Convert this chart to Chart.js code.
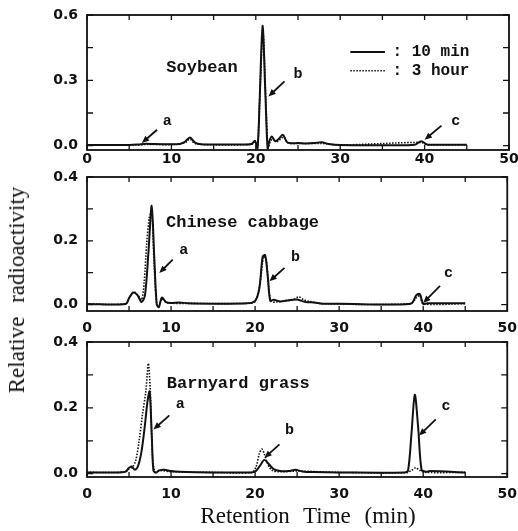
<!DOCTYPE html>
<html>
<head>
<meta charset="utf-8">
<script src="https://cdn.jsdelivr.net/npm/chart.js@4.4.1/dist/chart.umd.min.js"></script>
<style>
  body { margin: 0; background: #fff; }
  #wrap { position: relative; width: 518px; height: 531px; overflow: hidden; }
  #wrap canvas { position: absolute; left: 0; top: 0; }
  .title { position: absolute; font-family: "Liberation Serif", serif; color: #111; white-space: nowrap; word-spacing: 8px; }
  #ytitle { left: 17px; top: 290px; font-size: 23px; transform: translate(-50%, -50%) rotate(-90deg); }
  #xtitle { left: 308px; top: 516px; font-size: 23px; transform: translate(-50%, -50%); }
</style>
</head>
<body>
<div id="wrap">
  <canvas id="p1" width="518" height="531"></canvas>
  <canvas id="p2" width="518" height="531"></canvas>
  <canvas id="p3" width="518" height="531"></canvas>
  <div class="title" id="ytitle">Relative radioactivity</div>
  <div class="title" id="xtitle">Retention Time (min)</div>
</div>
<script>
// time in min, relative radioactivity
var seriesLabels = ["10 min", "3 hour"];
var xLabelTicks = [0, 10, 20, 30, 40, 50];
var xMinorTicks = [0, 5, 10, 15, 20, 25, 30, 35, 40, 45, 50];

// Soybean
var soyT10 = [0, 5, 6, 7, 8, 10, 11, 11.6, 12.2, 12.8, 13.5, 15, 18, 19.5, 19.9, 20.2, 20.45, 20.8, 21.15, 21.4, 21.6, 21.9, 22.3, 22.7, 23.2, 23.7, 24.2, 25, 26, 27, 27.8, 28.6, 30, 35, 38.8, 39.6, 40.3, 41, 45];
var soyV10 = [0.003, 0.003, 0.005, 0.009, 0.007, 0.006, 0.008, 0.018, 0.037, 0.014, 0.006, 0.005, 0.005, 0.008, 0.022, -0.012, 0.2, 0.55, 0.22, -0.012, 0.02, 0.042, 0.02, 0.03, 0.05, 0.016, 0.011, 0.012, 0.01, 0.012, 0.016, 0.008, 0.003, 0.002, 0.004, 0.02, 0.005, 0.004, 0.004];
var soyT3 = [0, 6, 7, 10, 11.6, 12.2, 12.8, 15, 19.5, 19.9, 20.2, 20.5, 20.85, 21.2, 21.45, 21.7, 22, 22.4, 22.8, 23.3, 23.8, 25, 27.8, 30, 39.6, 40.3, 45];
var soyV3 = [0.002, 0.003, 0.006, 0.005, 0.013, 0.03, 0.01, 0.004, 0.006, 0.018, -0.008, 0.25, 0.52, 0.2, -0.01, 0.015, 0.035, 0.018, 0.025, 0.04, 0.013, 0.01, 0.01, 0.003, 0.015, 0.004, 0.004];

// Chinese cabbage
var cabT10 = [0, 4.6, 5.0, 5.5, 6.0, 6.5, 6.9, 7.3, 7.7, 8.0, 8.3, 8.55, 8.9, 9.4, 10, 11, 12, 15, 19, 20, 20.5, 20.9, 21.2, 21.5, 21.8, 22.2, 23, 24, 25, 26, 27, 28, 30, 38.5, 39.2, 39.6, 40.0, 40.5, 45];
var cabV10 = [0.002, 0.002, 0.02, 0.038, 0.03, 0.008, 0.03, 0.16, 0.31, 0.15, 0.0, -0.008, 0.022, 0.008, 0.005, 0.007, 0.004, 0.003, 0.004, 0.012, 0.05, 0.15, 0.155, 0.09, 0.012, 0.015, 0.01, 0.014, 0.016, 0.008, 0.007, 0.003, 0.003, 0.003, 0.03, 0.033, 0.002, 0.004, 0.004];
var cabT3 = [0, 4.6, 5.1, 5.6, 6.1, 6.5, 6.8, 7.1, 7.4, 7.7, 8.0, 8.3, 8.6, 8.9, 9.5, 12, 19, 20, 20.6, 21.0, 21.3, 21.6, 21.9, 22.5, 23.5, 24.5, 25.2, 25.8, 26.5, 28, 38.5, 39.2, 39.6, 40, 45];
var cabV3 = [0.002, 0.003, 0.025, 0.04, 0.028, 0.015, 0.07, 0.19, 0.27, 0.29, 0.12, 0.0, -0.005, 0.018, 0.006, 0.004, 0.004, 0.01, 0.07, 0.15, 0.145, 0.06, 0.01, 0.008, 0.012, 0.015, 0.024, 0.015, 0.01, 0.003, 0.003, 0.022, 0.028, 0.003, 0.003];

// Barnyard grass
var barT10 = [0, 4.5, 5.0, 5.3, 5.7, 6.1, 6.5, 6.9, 7.2, 7.45, 7.7, 7.9, 8.2, 8.6, 9.2, 10, 11, 15, 19.6, 20.1, 20.6, 21.1, 21.6, 22.2, 23, 24, 24.8, 25.6, 27, 30, 37.8, 38.2, 38.6, 39.0, 39.4, 39.8, 40.3, 40.8, 45];
var barV10 = [0.004, 0.005, 0.018, 0.022, 0.012, 0.025, 0.07, 0.15, 0.22, 0.25, 0.12, 0.01, 0.003, 0.01, 0.012, 0.008, 0.006, 0.004, 0.004, 0.008, 0.025, 0.042, 0.03, 0.014, 0.008, 0.008, 0.012, 0.007, 0.005, 0.004, 0.004, 0.01, 0.12, 0.24, 0.14, 0.012, 0.006, 0.008, 0.004];
var barT3 = [0, 4.5, 5.0, 5.4, 5.8, 6.2, 6.6, 7.0, 7.3, 7.55, 7.8, 8.1, 8.6, 10, 15, 19.6, 20.1, 20.5, 20.8, 21.1, 21.5, 22, 23, 25, 30, 38, 38.6, 39.1, 39.6, 40.3, 45];
var barV3 = [0.004, 0.005, 0.015, 0.02, 0.04, 0.1, 0.18, 0.25, 0.335, 0.24, 0.05, 0.006, 0.01, 0.006, 0.004, 0.004, 0.02, 0.06, 0.075, 0.06, 0.03, 0.01, 0.006, 0.008, 0.004, 0.003, 0.01, 0.018, 0.01, 0.004, 0.004];

var ink = "#111";

function pts(t, v) {
  return t.map(function (x, i) { return {x: x, y: v[i]}; });
}

// frame, inward ticks, panel name, peak arrows, legend
const deco = {
  id: "deco",
  afterDraw(chart, args, o) {
    var ctx = chart.ctx, a = chart.chartArea, xs = chart.scales.x, ys = chart.scales.y;
    ctx.save();
    ctx.strokeStyle = ink;
    ctx.fillStyle = ink;
    ctx.lineWidth = 1.8;
    ctx.strokeRect(a.left, a.top, a.right - a.left, a.bottom - a.top);
    ctx.lineWidth = 1.3;
    ctx.beginPath();
    xMinorTicks.forEach(function (v) {
      var p = xs.getPixelForValue(v);
      ctx.moveTo(p, a.bottom); ctx.lineTo(p, a.bottom - 5);
      ctx.moveTo(p, a.top); ctx.lineTo(p, a.top + 5);
    });
    o.yMinor.forEach(function (v) {
      var p = ys.getPixelForValue(v);
      ctx.moveTo(a.left, p); ctx.lineTo(a.left + 6, p);
      ctx.moveTo(a.right, p); ctx.lineTo(a.right - 6, p);
    });
    ctx.stroke();

    ctx.font = 'bold 17px "Liberation Mono"';
    ctx.textAlign = "left";
    ctx.textBaseline = "middle";
    ctx.fillText(o.name, xs.getPixelForValue(o.nameAt[0]), ys.getPixelForValue(o.nameAt[1]));

    ctx.font = 'bold 15px "Liberation Mono"';
    ctx.textAlign = "center";
    o.peaks.forEach(function (m) {
      ctx.fillText(m[0], xs.getPixelForValue(m[1]), ys.getPixelForValue(m[2]));
      var x1 = xs.getPixelForValue(m[3]), y1 = ys.getPixelForValue(m[4]);
      var x2 = xs.getPixelForValue(m[5]), y2 = ys.getPixelForValue(m[6]);
      var ang = Math.atan2(y2 - y1, x2 - x1);
      ctx.lineWidth = 1.8;
      ctx.beginPath();
      ctx.moveTo(x1, y1);
      ctx.lineTo(x2 - 5 * Math.cos(ang), y2 - 5 * Math.sin(ang));
      ctx.stroke();
      ctx.beginPath();
      ctx.moveTo(x2, y2);
      ctx.lineTo(x2 - 8 * Math.cos(ang - 0.4), y2 - 8 * Math.sin(ang - 0.4));
      ctx.lineTo(x2 - 8 * Math.cos(ang + 0.4), y2 - 8 * Math.sin(ang + 0.4));
      ctx.closePath();
      ctx.fill();
    });

    if (o.legend) {
      ctx.textAlign = "left";
      ctx.font = 'bold 16px "Liberation Mono"';
      chart.data.datasets.forEach(function (ds, i) {
        var row = o.legend[i];
        var y = ys.getPixelForValue(row[1]);
        ctx.lineWidth = ds.borderWidth;
        ctx.setLineDash(ds.borderDash || []);
        ctx.beginPath();
        ctx.moveTo(xs.getPixelForValue(row[0]), y);
        ctx.lineTo(xs.getPixelForValue(row[2]), y);
        ctx.stroke();
        ctx.setLineDash([]);
        ctx.fillText(": " + ds.label, xs.getPixelForValue(row[3]), y);
      });
    }
    ctx.restore();
  }
};

function panel(id, t10, v10, t3, v3, cfg) {
  return new Chart(document.getElementById(id), {
    type: "line",
    data: {
      datasets: [
        { label: seriesLabels[0], data: pts(t10, v10), borderColor: ink, borderWidth: 2, pointRadius: 0, tension: 0.3, fill: false },
        { label: seriesLabels[1], data: pts(t3, v3), borderColor: ink, borderWidth: 1.6, borderDash: [1.5, 1.5], pointRadius: 0, tension: 0.3, fill: false }
      ]
    },
    options: {
      responsive: false,
      animation: false,
      events: [],
      layout: { padding: { top: cfg.top, bottom: 531 - cfg.bottom - 40, left: 0, right: 9 } },
      plugins: {
        legend: { display: false },
        tooltip: { enabled: false },
        deco: cfg.deco
      },
      scales: {
        x: {
          type: "linear", min: 0, max: 50,
          grid: { display: false }, border: { display: false },
          afterBuildTicks: function (s) { s.ticks = xLabelTicks.map(function (v) { return {value: v}; }); },
          afterFit: function (s) { s.height = 40; },
          ticks: { color: ink, padding: cfg.xPad, maxRotation: 0, font: { family: "DejaVu Sans", weight: "bold", size: 14 } }
        },
        y: {
          min: cfg.yMin, max: cfg.yMax,
          grid: { display: false }, border: { display: false },
          afterBuildTicks: function (s) { s.ticks = cfg.yLabels.map(function (v) { return {value: v}; }); },
          afterFit: function (s) { s.width = 87; },
          ticks: { color: ink, padding: 1, font: { family: "DejaVu Sans", weight: "bold", size: 14 },
                   callback: function (v) { return Number(v).toFixed(1); } }
        }
      }
    },
    plugins: [deco]
  });
}

panel("p1", soyT10, soyV10, soyT3, soyV3, {
  top: 15, bottom: 150, yMin: -0.02, yMax: 0.6, yLabels: [0, 0.3, 0.6], xPad: -7,
  deco: {
    name: "Soybean", nameAt: [9.4, 0.357], yMinor: [0, 0.15, 0.3, 0.45, 0.6],
    peaks: [["a", 9.5, 0.11, 8.3, 0.073, 6.5, 0.012],
            ["b", 25.0, 0.33, 23.4, 0.295, 21.5, 0.226],
            ["c", 43.7, 0.111, 42.0, 0.092, 40.0, 0.027]],
    legend: [[31.2, 0.43, 35.3, 36.2], [31.2, 0.344, 35.3, 36.2]]
  }
});

panel("p2", cabT10, cabV10, cabT3, cabV3, {
  top: 177, bottom: 311, yMin: -0.02, yMax: 0.4, yLabels: [0, 0.2, 0.4], xPad: 1,
  deco: {
    name: "Chinese cabbage", nameAt: [9.4, 0.256], yMinor: [0, 0.1, 0.2, 0.3, 0.4],
    peaks: [["a", 11.5, 0.172, 10.2, 0.141, 8.6, 0.099],
            ["b", 24.8, 0.149, 23.5, 0.115, 21.7, 0.073],
            ["c", 43.0, 0.097, 42.0, 0.059, 40.0, 0.005]]
  }
});

panel("p3", barT10, barV10, barT3, barV3, {
  top: 342, bottom: 477, yMin: -0.01, yMax: 0.4, yLabels: [0, 0.2, 0.4], xPad: 1,
  deco: {
    name: "Barnyard grass", nameAt: [9.5, 0.272], yMinor: [0, 0.1, 0.2, 0.3, 0.4],
    peaks: [["a", 11.1, 0.21, 9.8, 0.177, 7.9, 0.134],
            ["b", 24.1, 0.131, 22.9, 0.089, 21.1, 0.048],
            ["c", 42.7, 0.204, 41.5, 0.165, 39.5, 0.116]]
  }
});
</script>
</body>
</html>
